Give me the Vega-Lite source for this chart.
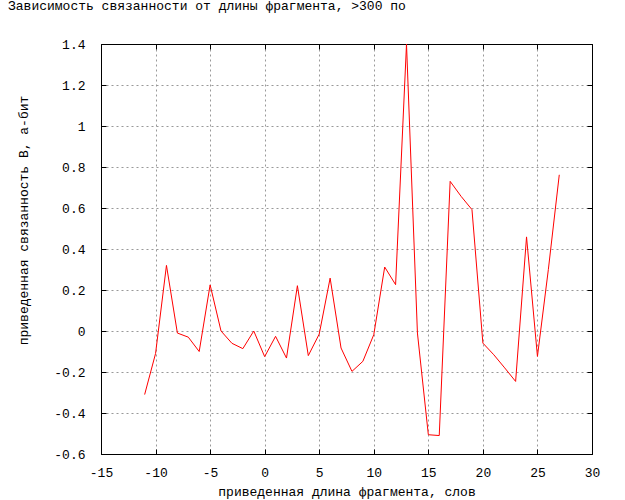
{
  "$schema": "https://vega.github.io/schema/vega-lite/v6.json",
  "width": 491,
  "height": 410,
  "autosize": "none",
  "padding": {"left": 101, "top": 44, "right": 33, "bottom": 46},
  "background": "white",
  "title": {
    "text": "Зависимость связанности от длины фрагмента, >300 по",
    "anchor": "start",
    "frame": "group",
    "dx": -93,
    "offset": 15,
    "baseline": "alphabetic",
    "font": "Liberation Mono",
    "fontSize": 13,
    "fontWeight": "normal",
    "color": "black"
  },
  "config": {
    "view": {"stroke": "black", "strokeWidth": 1},
    "axis": {
      "labelFont": "Liberation Mono",
      "labelFontSize": 13,
      "labelColor": "black",
      "titleFont": "Liberation Mono",
      "titleFontSize": 13,
      "titleFontWeight": "normal",
      "titleColor": "black",
      "domainColor": "black",
      "tickColor": "black",
      "gridColor": "#999999",
      "gridDash": [2, 3],
      "gridOpacity": 1,
      "gridWidth": 1
    }
  },
  "data": {
    "values": [
      {"x": -11, "y": -0.31},
      {"x": -10, "y": -0.11},
      {"x": -9, "y": 0.32},
      {"x": -8, "y": -0.01},
      {"x": -7, "y": -0.03},
      {"x": -6, "y": -0.1},
      {"x": -5, "y": 0.225},
      {"x": -4, "y": 0.0},
      {"x": -3, "y": -0.06},
      {"x": -2, "y": -0.086},
      {"x": -1, "y": 0.0},
      {"x": 0, "y": -0.125},
      {"x": 1, "y": -0.026},
      {"x": 2, "y": -0.132},
      {"x": 3, "y": 0.221},
      {"x": 4, "y": -0.12},
      {"x": 5, "y": -0.015},
      {"x": 6, "y": 0.258},
      {"x": 7, "y": -0.083},
      {"x": 8, "y": -0.197},
      {"x": 9, "y": -0.148},
      {"x": 10, "y": -0.018},
      {"x": 11, "y": 0.312},
      {"x": 12, "y": 0.226},
      {"x": 13, "y": 1.4},
      {"x": 14, "y": -0.01},
      {"x": 15, "y": -0.506},
      {"x": 16, "y": -0.51},
      {"x": 17, "y": 0.73},
      {"x": 18, "y": 0.657},
      {"x": 19, "y": 0.592},
      {"x": 20, "y": -0.059},
      {"x": 21, "y": -0.116},
      {"x": 22, "y": -0.18},
      {"x": 23, "y": -0.246},
      {"x": 24, "y": 0.459},
      {"x": 25, "y": -0.124},
      {"x": 26, "y": 0.3},
      {"x": 27, "y": 0.762}
    ]
  },
  "resolve": {"axis": {"x": "independent", "y": "independent"}},
  "layer": [
    {
      "mark": {"type": "line", "color": "#ff0000", "strokeWidth": 1, "clip": true},
      "encoding": {
        "x": {
          "field": "x",
          "type": "quantitative",
          "scale": {"domain": [-15, 30], "nice": false, "zero": false},
          "axis": {
            "orient": "bottom",
            "values": [-15, -10, -5, 0, 5, 10, 15, 20, 25, 30],
            "labelExpr": "replace(format(datum.value, 'd'), '\u2212', '-')",
            "tickSize": -5,
            "labelPadding": 27,
            "labelBaseline": "alphabetic",
            "labelFlush": false,
            "labelOverlap": false,
            "grid": true,
            "title": "приведенная длина фрагмента, слов",
            "titleBaseline": "alphabetic",
            "titleY": 41
          }
        },
        "y": {
          "field": "y",
          "type": "quantitative",
          "scale": {"domain": [-0.6, 1.4], "nice": false, "zero": false},
          "axis": {
            "orient": "left",
            "values": [-0.6, -0.4, -0.2, 0, 0.2, 0.4, 0.6, 0.8, 1, 1.2, 1.4],
            "labelExpr": "replace(format(datum.value, '.1~f'), '\u2212', '-')",
            "tickSize": -5,
            "labelPadding": 21,
            "labelBaseline": "middle",
            "labelFlush": false,
            "labelOverlap": false,
            "grid": true,
            "title": "приведенная связанность B, а-бит",
            "titleBaseline": "alphabetic",
            "titleAngle": -90,
            "titleX": -74,
            "titleY": 176
          }
        }
      }
    },
    {
      "mark": {"type": "line", "color": "#ff0000", "strokeOpacity": 0},
      "encoding": {
        "x": {
          "field": "x",
          "type": "quantitative",
          "axis": {
            "orient": "top",
            "values": [-15, -10, -5, 0, 5, 10, 15, 20, 25, 30],
            "labels": false,
            "tickSize": -5,
            "grid": false,
            "title": null
          }
        },
        "y": {
          "field": "y",
          "type": "quantitative",
          "axis": {
            "orient": "right",
            "values": [-0.6, -0.4, -0.2, 0, 0.2, 0.4, 0.6, 0.8, 1, 1.2, 1.4],
            "labels": false,
            "tickSize": -5,
            "grid": false,
            "title": null
          }
        }
      }
    }
  ]
}
